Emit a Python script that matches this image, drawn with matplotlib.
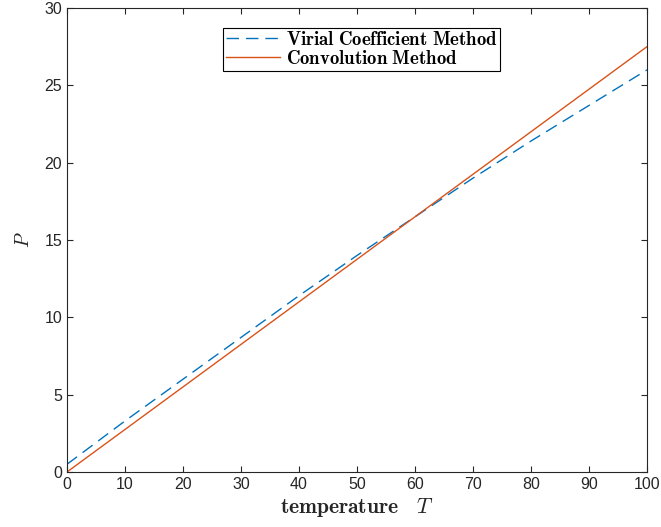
import matplotlib
matplotlib.use('Agg')
import matplotlib.pyplot as plt

plt.rcParams['font.family'] = ['Liberation Sans', 'DejaVu Sans']
plt.rcParams['mathtext.fontset'] = 'cm'

# valeurs
temperature = [0, 10, 20, 30, 40, 50, 60, 70, 80, 90, 100]
p_viriel = [0.5, 3.3, 6.0, 8.7, 11.4, 14.0, 16.5, 19.0, 21.4, 23.7, 26.0]
p_convolution = [0.0, 2.75, 5.5, 8.25, 11.0, 13.75, 16.5, 19.25, 22.0, 24.75, 27.5]

gris = '#262626'

fig = plt.figure(figsize=(6.61, 5.27), dpi=100)
ax = fig.add_axes([67 / 661, 55 / 527, 580 / 661, 464 / 527])

ax.plot(temperature, p_viriel, linestyle=(0, (9, 5)), color='#0072BD', lw=1.0,
        label=r'$\mathbf{Virial\ Coefficient\ Method}$')
ax.plot(temperature, p_convolution, color='#D95319', lw=1.0,
        label=r'$\mathbf{Convolution\ Method}$')

ax.set_xlim(0, 100)
ax.set_ylim(0, 30)
ax.set_xticks(range(0, 101, 10))
ax.set_yticks(range(0, 31, 5))
ax.tick_params(direction='in', top=True, right=True, labelsize=11.5,
               colors=gris, length=4, width=0.8)
for s in ax.spines.values():
    s.set_color(gris)
    s.set_linewidth(0.8)

ax.set_xlabel(r'$\mathbf{temperature}\quad T$', fontsize=15.5, color=gris, labelpad=3)
ax.set_ylabel(r'$P$', fontsize=14, color=gris, labelpad=8)

leg = ax.legend(loc='upper center', bbox_to_anchor=(0.508, 0.957), fontsize=13.5,
                fancybox=False, edgecolor='black', framealpha=1,
                handlelength=2.9, borderpad=0.15, labelspacing=0.05,
                handletextpad=0.3, borderaxespad=0)
leg.get_frame().set_linewidth(0.8)

fig.savefig('out.png', dpi=100)
